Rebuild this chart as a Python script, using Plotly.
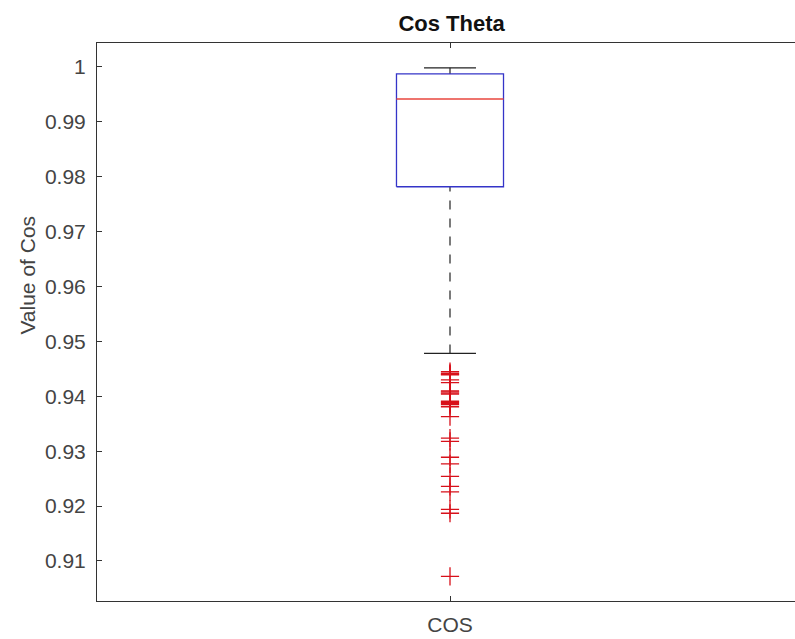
import plotly.graph_objects as go

# Summary statistics of the cosine values
category = "COS"
q1 = 0.97818
median = 0.99417
q3 = 0.99873
upper_whisker = 0.99985
lower_whisker = 0.94781
outliers = [0.9445, 0.9442, 0.9440, 0.9439, 0.9430, 0.9425, 0.9410, 0.9408,
            0.9406, 0.9404, 0.9391, 0.9389, 0.9387, 0.9385, 0.9381, 0.9363,
            0.9324, 0.9318, 0.9289, 0.9277, 0.9254, 0.9236, 0.9226, 0.9194,
            0.9187, 0.9072]

y_ticks = [0.91, 0.92, 0.93, 0.94, 0.95, 0.96, 0.97, 0.98, 0.99, 1.0]
y_tick_text = ["0.91", "0.92", "0.93", "0.94", "0.95", "0.96", "0.97", "0.98", "0.99", "1"]

xc = 1.0
box_half = 0.0758
cap_half = 0.0368

fig = go.Figure()

# whiskers (dashed)
fig.add_trace(go.Scatter(x=[xc, xc], y=[q3, upper_whisker], mode="lines",
                         line=dict(color="#222222", width=1.2, dash="dash"),
                         hoverinfo="skip", showlegend=False))
fig.add_trace(go.Scatter(x=[xc, xc], y=[lower_whisker, q1], mode="lines",
                         line=dict(color="#222222", width=1.2, dash="dash"),
                         hoverinfo="skip", showlegend=False))
# whisker caps
for v in (upper_whisker, lower_whisker):
    fig.add_trace(go.Scatter(x=[xc - cap_half, xc + cap_half], y=[v, v], mode="lines",
                             line=dict(color="#222222", width=1.3),
                             hoverinfo="skip", showlegend=False))
# box
fig.add_trace(go.Scatter(
    x=[xc - box_half, xc + box_half, xc + box_half, xc - box_half, xc - box_half],
    y=[q1, q1, q3, q3, q1], mode="lines",
    line=dict(color="#3434c8", width=1.3), hoverinfo="skip", showlegend=False))
# median
fig.add_trace(go.Scatter(x=[xc - box_half, xc + box_half], y=[median, median], mode="lines",
                         line=dict(color="#e8463e", width=1.6),
                         hoverinfo="skip", showlegend=False))
# outliers
fig.add_trace(go.Scatter(x=[xc] * len(outliers), y=outliers, mode="markers",
                         marker=dict(symbol="cross-thin", size=13,
                                     line=dict(color="#d8101a", width=1.3)),
                         showlegend=False))

fig.update_layout(
    width=795, height=639,
    margin=dict(l=97, r=0, t=43, b=38),
    paper_bgcolor="white", plot_bgcolor="white",
    font=dict(family="Liberation Sans, Arial, sans-serif", color="#444444", size=21),
    title=dict(text="<b>Cos Theta</b>", x=0.568, xanchor="center", y=0.963, yanchor="middle",
               font=dict(size=22, color="#111111")),
    xaxis=dict(range=[0.5, 1.48867], tickvals=[xc], ticktext=[category],
               showgrid=False, zeroline=False, showline=True, linecolor="#333333",
               linewidth=1, mirror="ticks", ticks="inside", ticklen=5, tickcolor="#333333",
               ticklabelstandoff=5),
    yaxis=dict(range=[0.90271, 1.00437], tickvals=y_ticks, ticktext=y_tick_text,
               showgrid=False, zeroline=False, showline=True, linecolor="#333333",
               linewidth=1, ticks="inside", ticklen=5, tickcolor="#333333",
               ticklabelstandoff=6),
    annotations=[dict(text="Value of Cos", xref="paper", yref="paper",
                      x=-0.0996, y=0.584, xanchor="center", yanchor="middle",
                      textangle=-90, showarrow=False,
                      font=dict(size=21, color="#444444"))],
)

fig.write_html("out.html")
